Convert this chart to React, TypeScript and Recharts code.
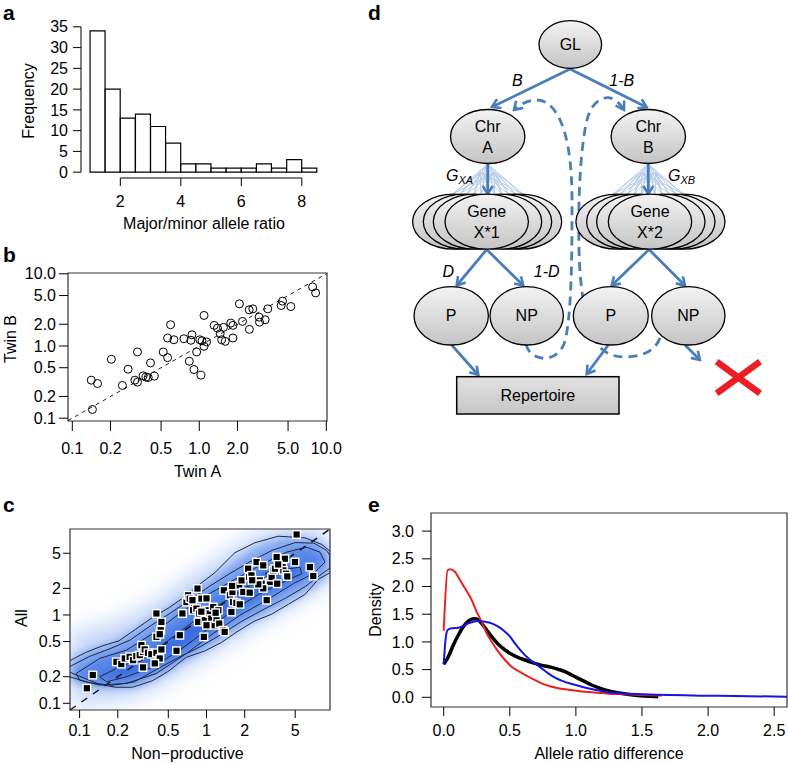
import React from "react";
import {
  BarChart,
  Bar,
  ComposedChart,
  Area,
  Scatter,
  LineChart,
  Line,
  XAxis,
  YAxis,
  ReferenceLine,
  ReferenceArea,
} from "recharts";

const FONT = '"Liberation Sans", Arial, Helvetica, sans-serif';
const tickFont = { fill: "#000", fontSize: 16, fontFamily: FONT };

// ---- a: histogram of major/minor allele ratio
const binStarts = [1, 1.5, 2, 2.5, 3, 3.5, 4, 4.5, 5, 5.5, 6, 6.5, 7, 7.5, 8];
const binMids = [1.25, 1.75, 2.25, 2.75, 3.25, 3.75, 4.25, 4.75, 5.25, 5.75, 6.25, 6.75, 7.25, 7.75, 8.25];
const binCounts = [34, 20, 13, 14, 11, 7, 2, 2, 1, 1, 1, 2, 1, 3, 1];
const ratioTicks = [2, 4, 6, 8];
const freqTicks = [0, 5, 10, 15, 20, 25, 30, 35];

// ---- b: twin A vs twin B
const twinA = [0.141, 0.158, 0.144, 0.203, 0.248, 0.275, 0.311, 0.326, 0.326, 0.361, 0.38, 0.396, 0.413, 0.442, 0.52, 0.563, 0.594, 0.563, 0.631, 0.757, 0.834, 0.859, 0.875, 0.908, 0.953, 1.01, 1.05, 1.03, 1.09, 1.09, 1.14, 1.31, 1.39, 1.46, 1.55, 1.5, 1.6, 1.77, 1.84, 1.84, 2.07, 2.19, 2.47, 2.48, 2.64, 2.96, 2.98, 3.3, 3.46, 4.41, 4.52, 5.26, 7.8, 8.24];
const twinB = [0.336, 0.302, 0.132, 0.655, 0.284, 0.477, 0.336, 0.316, 0.827, 0.386, 0.37, 0.366, 0.583, 0.382, 0.827, 0.69, 1.97, 1.29, 1.22, 1.26, 0.615, 1.2, 1.43, 0.472, 0.827, 1.22, 1.18, 0.394, 2.65, 0.99, 1.14, 1.93, 1.77, 1.48, 1.81, 1.22, 1.16, 2.08, 1.93, 1.29, 3.84, 2.19, 3.17, 1.7, 3.27, 2.51, 2.14, 2.31, 3.27, 3.64, 4.18, 3.52, 6.58, 5.44];
const twinTicks = [0.1, 0.2, 0.5, 1, 2, 5, 10];

// ---- c: non-productive vs all
const nonProductive = [0.114, 0.127, 0.195, 0.213, 0.227, 0.248, 0.264, 0.28, 0.298, 0.316, 0.307, 0.326, 0.346, 0.368, 0.403, 0.428, 0.316, 0.391, 0.441, 0.403, 0.441, 0.436, 0.403, 0.428, 0.58, 0.616, 0.646, 0.695, 0.716, 0.738, 0.775, 0.784, 0.833, 0.875, 0.859, 0.849, 0.913, 0.953, 1.0, 0.97, 1.06, 1.09, 1.13, 1.16, 1.2, 1.24, 1.26, 1.0, 1.35, 1.39, 1.37, 1.53, 1.6, 1.62, 1.72, 1.57, 1.81, 1.89, 1.95, 2.13, 2.17, 2.26, 2.48, 2.63, 2.72, 2.8, 2.98, 3.16, 3.26, 3.36, 3.46, 3.57, 3.98, 4.03, 4.15, 4.23, 4.33, 4.98, 5.13, 6.53, 6.94, 3.67, 3.61, 2.8, 2.56, 2.29, 2.19, 1.83, 1.59, 1.18, 1.0, 0.91];
const allSeqs = [0.148, 0.209, 0.295, 0.278, 0.322, 0.336, 0.308, 0.342, 0.351, 0.383, 0.455, 0.407, 0.373, 0.36, 0.373, 0.322, 0.255, 0.283, 0.407, 1.04, 0.834, 0.672, 0.565, 0.606, 0.393, 0.59, 1.04, 1.4, 1.67, 1.53, 1.47, 1.13, 1.18, 1.04, 0.834, 1.99, 1.53, 0.565, 1.13, 0.871, 1.04, 0.91, 1.23, 0.765, 0.91, 1.13, 0.799, 0.765, 0.672, 0.643, 1.9, 1.67, 1.82, 1.4, 1.37, 1.08, 2.16, 2.46, 1.82, 3.34, 2.69, 2.81, 3.97, 2.46, 2.26, 3.64, 1.47, 2.36, 2.69, 3.2, 3.34, 4.52, 3.48, 3.2, 4.33, 2.93, 2.73, 3.97, 8.15, 3.48, 2.76, 3.73, 2.26, 2.0, 2.22, 2.47, 1.79, 1.32, 2.13, 1.06, 1.54, 1.09];
const npTicks = [0.1, 0.2, 0.5, 1, 2, 5];

// density contours (closed loops)
const contourOuterX = [0.0834, 0.1115, 0.151, 0.204, 0.277, 0.375, 0.507, 0.687, 0.902, 1.16, 1.67, 2.4, 3.67, 5.97, 8.09, 9.4, 9.4, 7.6, 5.97, 4.41, 3.26, 2.4, 1.78, 1.31, 0.97, 0.687, 0.507, 0.375, 0.261, 0.192, 0.142, 0.0834];
const contourOuterY = [0.303, 0.376, 0.447, 0.509, 0.69, 0.935, 1.21, 1.64, 2.28, 3.0, 5.06, 6.56, 7.79, 7.47, 6.28, 5.27, 3.01, 2.53, 1.71, 1.32, 1.02, 0.855, 0.66, 0.488, 0.392, 0.33, 0.233, 0.18, 0.152, 0.152, 0.165, 0.225];
const contour2X = [0.0834, 0.12, 0.17, 0.25, 0.36, 0.52, 0.75, 1.05, 1.5, 2.2, 3.3, 5.0, 7.0, 8.8, 9.4, 9.4, 7.8, 6.0, 4.2, 2.8, 1.9, 1.3, 0.9, 0.6, 0.4, 0.27, 0.18, 0.12, 0.0834];
const contour2Y = [0.26, 0.34, 0.41, 0.52, 0.75, 1.05, 1.5, 2.1, 2.9, 4.0, 5.4, 6.6, 6.5, 5.4, 4.7, 3.4, 2.8, 2.1, 1.55, 1.15, 0.85, 0.6, 0.44, 0.33, 0.24, 0.175, 0.16, 0.17, 0.2];
const contourMidX = [0.094, 0.144, 0.234, 0.379, 0.616, 1.0, 1.62, 2.63, 4.28, 6.15, 7.84, 8.58, 6.94, 4.83, 2.98, 1.83, 1.13, 0.695, 0.403, 0.234, 0.144, 0.1, 0.094];
const contourMidY = [0.218, 0.322, 0.4, 0.617, 1.04, 1.67, 2.46, 3.64, 5.14, 5.85, 5.14, 3.96, 2.93, 2.26, 1.47, 0.99, 0.617, 0.367, 0.218, 0.168, 0.161, 0.183, 0.218];
const contourInnerX = [0.144, 0.207, 0.336, 0.545, 0.885, 1.44, 2.33, 3.79, 5.45, 5.62, 4.28, 2.63, 1.62, 1.0, 0.616, 0.379, 0.234, 0.163, 0.144];
const contourInnerY = [0.2, 0.259, 0.336, 0.565, 0.949, 1.47, 2.26, 3.2, 3.48, 2.93, 2.46, 1.74, 1.13, 0.672, 0.4, 0.259, 0.2, 0.175, 0.2];

// blue density shading bands (x, low, high)
const glowX = [0.084, 0.12, 0.17, 0.25, 0.35, 0.5, 0.7, 1.0, 1.4, 2.0, 3.0, 4.5, 6.5, 9.4];
const glowLo = [0.1, 0.1, 0.105, 0.115, 0.14, 0.18, 0.24, 0.33, 0.45, 0.62, 0.88, 1.25, 1.7, 2.3];
const glowHi = [0.65, 0.7, 0.8, 1.0, 1.3, 1.8, 2.6, 3.6, 5.0, 6.8, 8.8, 9.4, 9.4, 9.4];
const band1Lo = [0.19, 0.16, 0.15, 0.15, 0.175, 0.23, 0.32, 0.42, 0.56, 0.76, 1.02, 1.4, 1.9, 2.9];
const band1Hi = [0.32, 0.4, 0.47, 0.62, 0.86, 1.18, 1.65, 2.35, 3.4, 4.9, 6.6, 7.6, 7.2, 5.4];
const band2X = [0.09, 0.144, 0.234, 0.38, 0.62, 1.0, 1.6, 2.6, 4.3, 6.2, 8.6];
const band2Lo = [0.19, 0.165, 0.17, 0.22, 0.33, 0.5, 0.85, 1.3, 2.0, 2.6, 3.9];
const band2Hi = [0.23, 0.32, 0.4, 0.62, 1.04, 1.67, 2.46, 3.64, 5.1, 5.8, 4.6];
const band3X = [0.15, 0.21, 0.34, 0.55, 0.89, 1.44, 2.3, 3.8, 5.5];
const band3Lo = [0.185, 0.2, 0.26, 0.37, 0.58, 1.0, 1.55, 2.3, 2.95];
const band3Hi = [0.205, 0.26, 0.34, 0.57, 0.95, 1.47, 2.26, 3.2, 3.35];

// ---- e: allele ratio difference densities
const redX = [0, 0.03, 0.048, 0.085, 0.123, 0.161, 0.212, 0.249, 0.287, 0.325, 0.363, 0.413, 0.464, 0.514, 0.565, 0.615, 0.665, 0.741, 0.817, 0.918, 1.018, 1.119, 1.245, 1.371, 1.5, 1.65];
const redY = [1.2, 2.298, 2.31, 2.268, 2.117, 1.967, 1.756, 1.546, 1.365, 1.155, 1.004, 0.824, 0.673, 0.553, 0.475, 0.403, 0.342, 0.252, 0.192, 0.144, 0.114, 0.09, 0.066, 0.054, 0.04, 0.03];
const blackX = [0, 0.035, 0.073, 0.111, 0.148, 0.186, 0.224, 0.249, 0.287, 0.325, 0.363, 0.413, 0.464, 0.514, 0.565, 0.615, 0.665, 0.716, 0.766, 0.817, 0.867, 0.918, 0.968, 1.018, 1.069, 1.119, 1.17, 1.22, 1.271, 1.346, 1.434, 1.623];
const blackY = [0.595, 0.733, 0.944, 1.125, 1.275, 1.377, 1.419, 1.413, 1.335, 1.215, 1.094, 0.956, 0.854, 0.776, 0.715, 0.673, 0.631, 0.595, 0.565, 0.541, 0.505, 0.463, 0.403, 0.342, 0.282, 0.222, 0.174, 0.132, 0.102, 0.072, 0.04, 0.01];
const blueX = [0, 0.015, 0.03, 0.06, 0.111, 0.148, 0.186, 0.224, 0.262, 0.312, 0.363, 0.413, 0.464, 0.502, 0.539, 0.59, 0.64, 0.691, 0.741, 0.791, 0.842, 0.892, 0.968, 1.044, 1.119, 1.22, 1.321, 1.51, 1.94, 2.2, 2.597];
const blueY = [0.595, 1.064, 1.215, 1.245, 1.257, 1.287, 1.335, 1.365, 1.377, 1.365, 1.335, 1.275, 1.185, 1.094, 0.974, 0.824, 0.703, 0.613, 0.523, 0.433, 0.354, 0.3, 0.24, 0.192, 0.15, 0.102, 0.072, 0.054, 0.03, 0.025, 0.01];
const diffTicks = [0, 0.5, 1, 1.5, 2, 2.5];
const densTicks = [0, 0.5, 1, 1.5, 2, 2.5, 3];

const zip = (xs: number[], ys: number[]) => xs.map((x, i) => ({ x, y: ys[i] }));
const band = (xs: number[], lo: number[], hi: number[]) =>
  xs.map((x, i) => ({ x, range: [lo[i], hi[i]] }));

const histData = binStarts.map((b, i) => ({ bin: b, mid: binMids[i], count: binCounts[i] }));
const twinData = zip(twinA, twinB);
const npData = zip(nonProductive, allSeqs);

const BLUE = "#4a7ebb";
const noDot = () => <g />;

const Circle = (p: any) => <circle cx={p.cx} cy={p.cy} r={4} fill="none" stroke="#000" strokeWidth={1} />;
const Square = (p: any) => (
  <rect x={p.cx - 3.8} y={p.cy - 3.8} width={7.6} height={7.6} fill="#000" stroke="#fff" strokeWidth={1.4} />
);

const Node = ({ cx, cy, rx, ry, lines }: any) => (
  <g>
    <ellipse cx={cx} cy={cy} rx={rx} ry={ry} fill="url(#nodeFill)" stroke="#000" strokeWidth={1.3} />
    {lines.map((t: string, i: number) => (
      <text key={i} x={cx} y={cy + (i - (lines.length - 1) / 2) * 21} textAnchor="middle" dominantBaseline="central" fontSize={16}>
        {t}
      </text>
    ))}
  </g>
);

const GeneStack = ({ cx, label }: any) => {
  const offs = [-32.4, 33.3, -21.7, 23.3, -11.7, 13.3];
  return (
    <g>
      {offs.map((o) => (
        <ellipse key={o} cx={cx + o} cy={221.7} rx={41.7} ry={27.5} fill="url(#nodeFill)" stroke="#000" strokeWidth={1.3} />
      ))}
      <Node cx={cx} cy={221.7} rx={41.7} ry={27.5} lines={["Gene", label]} />
    </g>
  );
};

const Fan = ({ cx }: any) => {
  const targets = [-35, -28, -21, -14, -7, 7, 14, 21, 28, 35];
  const origins = [[0, 164], [-7, 172], [7, 172]];
  return (
    <g stroke="#b7cce8" strokeWidth={1}>
      {origins.map(([ox, oy], j) =>
        targets.map((t) => <line key={j + "-" + t} x1={cx + ox} y1={oy} x2={cx + t} y2={194} />)
      )}
    </g>
  );
};

const Diagram = () => (
  <g fontFamily={FONT}>
    <Fan cx={487.7} />
    <Fan cx={648.3} />
    <g stroke={BLUE} strokeWidth={2.8} fill="none" markerEnd="url(#chev)">
      <path d="M570,69 L492,107" />
      <path d="M570,69 L646.7,107.3" />
      <path d="M487.7,163.5 L487.7,194" />
      <path d="M648.3,163.5 L648.3,194" />
      <path d="M486.7,249.5 L456.7,285.5" />
      <path d="M486.7,249.5 L523.3,285.5" />
      <path d="M649,249.5 L611.7,285.5" />
      <path d="M649,249.5 L685,285.5" />
      <path d="M451.7,345 L478.3,375" />
      <path d="M608.3,345 L586.7,374" />
      <path d="M685,345 L700,360" />
    </g>
    <g stroke={BLUE} strokeWidth={2.8} fill="none" strokeDasharray="9 6" markerEnd="url(#chev)">
      <path d="M526,344 C530,362 556,364 564,344 C572,320 572,250 572,200 C572,150 564,112 545,102 C535,97 522,102 514,110" />
      <path d="M660,338 C655,352 640,357 625,357 C612,357 600,352 594,338 C585,318 580,290 579,250 C578,200 580,150 587,120 C592,100 605,95 613,99 C618,102 621,105 624,110" />
    </g>
    <Node cx={570.3} cy={44.5} rx={31.3} ry={23.8} lines={["GL"]} />
    <Node cx={487.7} cy={136.5} rx={37.2} ry={27} lines={["Chr", "A"]} />
    <Node cx={648.3} cy={136.5} rx={37.2} ry={27} lines={["Chr", "B"]} />
    <GeneStack cx={486.7} label="X*1" />
    <GeneStack cx={650} label="X*2" />
    <Node cx={451.2} cy={315.8} rx={37.2} ry={29.2} lines={["P"]} />
    <Node cx={526.7} cy={315.8} rx={36.7} ry={29.2} lines={["NP"]} />
    <Node cx={610.8} cy={315.8} rx={37.5} ry={29.2} lines={["P"]} />
    <Node cx={688.3} cy={315.8} rx={36.7} ry={29.2} lines={["NP"]} />
    <rect x={456.7} y={376.7} width={162.3} height={37.3} fill="url(#boxFill)" stroke="#000" strokeWidth={1.5} />
    <text x={537.8} y={395.3} textAnchor="middle" dominantBaseline="central" fontSize={16}>Repertoire</text>
    <g fontSize={16} fontStyle="italic" textAnchor="middle" dominantBaseline="central">
      <text x={517.3} y={80}>B</text>
      <text x={621.7} y={80}>1-B</text>
      <text x={448.3} y={271.7}>D</text>
      <text x={546.7} y={271.7}>1-D</text>
    </g>
    <g fontStyle="italic" dominantBaseline="central">
      <text x={446} y={175} fontSize={16}>G<tspan fontSize={11} dy={5}>XA</tspan></text>
      <text x={668} y={175} fontSize={16}>G<tspan fontSize={11} dy={5}>XB</tspan></text>
    </g>
    <g stroke="#ee1c24" strokeWidth={6.5}>
      <line x1={716.7} y1={361.7} x2={760} y2={393.3} />
      <line x1={716.7} y1={393.3} x2={760} y2={361.7} />
    </g>
  </g>
);

const Overlay = () => (
  <svg width={788} height={764} style={{ position: "absolute", left: 0, top: 0, pointerEvents: "none" }} fontFamily={FONT}>
    <defs>
      <linearGradient id="nodeFill" x1="0" y1="0" x2="0" y2="1">
        <stop offset="0" stopColor="#f3f3f3" />
        <stop offset="1" stopColor="#c4c4c4" />
      </linearGradient>
      <linearGradient id="boxFill" x1="0" y1="0" x2="0" y2="1">
        <stop offset="0" stopColor="#e2e2e2" />
        <stop offset="1" stopColor="#c6c6c6" />
      </linearGradient>
      <marker id="chev" viewBox="0 0 12 12" refX="10" refY="6" markerWidth="12" markerHeight="12" markerUnits="userSpaceOnUse" orient="auto">
        <path d="M2,1 L10,6 L2,11" fill="none" stroke={BLUE} strokeWidth={2.6} />
      </marker>
      <filter id="blurWide" x="-30%" y="-30%" width="160%" height="160%">
        <feGaussianBlur stdDeviation="11" />
      </filter>
      <filter id="blurNarrow" x="-30%" y="-30%" width="160%" height="160%">
        <feGaussianBlur stdDeviation="5" />
      </filter>
    </defs>
    <g fontWeight="bold" fontSize={21}>
      <text x={3} y={20}>a</text>
      <text x={3} y={262}>b</text>
      <text x={3} y={512}>c</text>
      <text x={368} y={20}>d</text>
      <text x={368} y={512}>e</text>
    </g>
    <g fontSize={16} textAnchor="middle" dominantBaseline="central" fill="#000">
      <text x={28} y={101} transform="rotate(-90 28 101)">Frequency</text>
      <text x={204} y={223}>Major/minor allele ratio</text>
      <text x={10} y={339} transform="rotate(-90 10 339)">Twin B</text>
      <text x={197.5} y={471.7}>Twin A</text>
      <text x={21} y={618} transform="rotate(-90 21 618)">All</text>
      <text x={187.5} y={753}>Non{"\u2212"}productive</text>
      <text x={375} y={610} transform="rotate(-90 375 610)">Density</text>
      <text x={609} y={753}>Allele ratio difference</text>
    </g>
    <Diagram />
  </svg>
);

export default function App() {
  return (
    <div style={{ position: "absolute", left: 0, top: 0, width: 788, height: 764, background: "#fff", fontFamily: FONT }}>
      {/* a */}
      <div style={{ position: "absolute", left: 0, top: 0 }}>
        <BarChart width={340} height={235} data={histData} margin={{ top: 21, right: 14, bottom: 0, left: 0 }} barCategoryGap={0}>
          <XAxis
            xAxisId="ratio"
            dataKey="mid"
            type="number"
            domain={[0.7, 8.8]}
            allowDataOverflow
            ticks={ratioTicks}
            interval={0}
            height={57}
            tickSize={8}
            tickMargin={10}
            tick={tickFont}
            axisLine={{ stroke: "#000", strokeDasharray: "0 39.3 181.5 1000" }}
            tickLine={{ stroke: "#000" }}
          />
          <XAxis xAxisId="bins" dataKey="bin" type="category" hide height={0} padding={{ left: 9.07, right: 9.07 }} />
          <YAxis
            type="number"
            domain={[-1.4, 36.4]}
            allowDataOverflow
            ticks={freqTicks}
            interval={0}
            width={81}
            tickSize={8}
            tickMargin={5}
            tick={tickFont}
            axisLine={{ stroke: "#000", strokeDasharray: "0 5.8 145.4 1000" }}
            tickLine={{ stroke: "#000" }}
          />
          <Bar xAxisId="bins" dataKey="count" fill="#fff" stroke="#000" strokeWidth={1.2} isAnimationActive={false} />
        </BarChart>
      </div>

      {/* b */}
      <div style={{ position: "absolute", left: 0, top: 250 }}>
        <ComposedChart width={360} height={235} margin={{ top: 23, right: 33, bottom: 0, left: 0 }}>
          <XAxis
            dataKey="x"
            type="number"
            scale="log"
            domain={[0.0925, 10.13]}
            allowDataOverflow
            ticks={twinTicks}
            interval={0}
            tickFormatter={(v: number) => v.toFixed(1)}
            height={64}
            tickSize={10}
            tickMargin={12}
            tick={tickFont}
            axisLine={false}
            tickLine={{ stroke: "#000" }}
          />
          <YAxis
            dataKey="y"
            type="number"
            scale="log"
            domain={[0.0914, 10.26]}
            allowDataOverflow
            ticks={twinTicks}
            interval={0}
            tickFormatter={(v: number) => v.toFixed(1)}
            width={68}
            tickSize={9}
            tickMargin={3}
            tick={tickFont}
            axisLine={false}
            tickLine={{ stroke: "#000" }}
          />
          <ReferenceLine
            segment={[{ x: 0.0925, y: 0.0925 }, { x: 10.13, y: 10.13 }]}
            stroke="#222"
            strokeDasharray="4 4"
            ifOverflow="visible"
          />
          <Scatter data={twinData} shape={Circle} isAnimationActive={false} />
          <ReferenceArea x1={0.0925} x2={10.13} y1={0.0914} y2={10.26} fill="none" stroke="#333" strokeWidth={1.2} />
        </ComposedChart>
      </div>

      {/* c */}
      <div style={{ position: "absolute", left: 0, top: 505 }}>
        <ComposedChart width={340} height={259} margin={{ top: 24, right: 10, bottom: 0, left: 0 }}>
          <XAxis
            dataKey="x"
            type="number"
            scale="log"
            domain={[0.084, 9.4]}
            allowDataOverflow
            ticks={npTicks}
            interval={0}
            height={54}
            tickSize={8}
            tickMargin={7}
            tick={tickFont}
            axisLine={false}
            tickLine={{ stroke: "#000" }}
          />
          <YAxis
            dataKey="y"
            type="number"
            scale="log"
            domain={[0.084, 9.4]}
            allowDataOverflow
            ticks={npTicks}
            interval={0}
            width={70}
            tickSize={7}
            tickMargin={2}
            tick={tickFont}
            axisLine={false}
            tickLine={{ stroke: "#000" }}
          />
          <Area data={band(glowX, glowLo, glowHi)} dataKey="range" type="monotone" stroke="none" fill="#8aacf0" fillOpacity={0.5} filter="url(#blurWide)" isAnimationActive={false} />
          <Area data={band(glowX, band1Lo, band1Hi)} dataKey="range" type="monotone" stroke="none" fill="#4a80ec" fillOpacity={0.55} filter="url(#blurNarrow)" isAnimationActive={false} />
          <Area data={band(band2X, band2Lo, band2Hi)} dataKey="range" type="monotone" stroke="none" fill="#2f68e4" fillOpacity={0.55} filter="url(#blurNarrow)" isAnimationActive={false} />
          <Area data={band(band3X, band3Lo, band3Hi)} dataKey="range" type="monotone" stroke="none" fill="#2256d8" fillOpacity={0.55} filter="url(#blurNarrow)" isAnimationActive={false} />
          <Scatter data={zip(contourOuterX, contourOuterY)} shape={noDot} line={{ stroke: "#1c2940", strokeWidth: 1 }} lineJointType="linear" isAnimationActive={false} />
          <Scatter data={zip(contour2X, contour2Y)} shape={noDot} line={{ stroke: "#1c2940", strokeWidth: 1 }} lineJointType="linear" isAnimationActive={false} />
          <Scatter data={zip(contourMidX, contourMidY)} shape={noDot} line={{ stroke: "#1c2940", strokeWidth: 1 }} lineJointType="linear" isAnimationActive={false} />
          <Scatter data={zip(contourInnerX, contourInnerY)} shape={noDot} line={{ stroke: "#1c2940", strokeWidth: 1 }} lineJointType="linear" isAnimationActive={false} />
          <ReferenceLine
            segment={[{ x: 0.084, y: 0.084 }, { x: 9.4, y: 9.4 }]}
            stroke="#111"
            strokeWidth={1.5}
            strokeDasharray="7 7"
            ifOverflow="visible"
          />
          <Scatter data={npData} shape={Square} isAnimationActive={false} />
          <ReferenceArea x1={0.084} x2={9.4} y1={0.084} y2={9.4} fill="none" stroke="#333" strokeWidth={1.2} />
        </ComposedChart>
      </div>

      {/* e */}
      <div style={{ position: "absolute", left: 360, top: 490 }}>
        <LineChart width={428} height={274} margin={{ top: 23, right: 1, bottom: 0, left: 0 }}>
          <XAxis
            dataKey="x"
            type="number"
            domain={[-0.096, 2.597]}
            allowDataOverflow
            ticks={diffTicks}
            interval={0}
            tickFormatter={(v: number) => v.toFixed(1)}
            height={57}
            tickSize={9}
            tickMargin={9}
            tick={tickFont}
            axisLine={false}
            tickLine={{ stroke: "#000" }}
          />
          <YAxis
            type="number"
            domain={[-0.175, 3.327]}
            allowDataOverflow
            ticks={densTicks}
            interval={0}
            tickFormatter={(v: number) => v.toFixed(1)}
            width={71}
            tickSize={9}
            tickMargin={8}
            tick={tickFont}
            axisLine={false}
            tickLine={{ stroke: "#000" }}
          />
          <Line data={zip(blackX, blackY)} dataKey="y" type="monotone" stroke="#000" strokeWidth={3.5} dot={false} isAnimationActive={false} />
          <Line data={zip(redX, redY)} dataKey="y" type="monotone" stroke="#ee1f1f" strokeWidth={2} dot={false} isAnimationActive={false} />
          <Line data={zip(blueX, blueY)} dataKey="y" type="monotone" stroke="#1414e6" strokeWidth={2} dot={false} isAnimationActive={false} />
          <ReferenceArea x1={-0.096} x2={2.597} y1={-0.175} y2={3.327} fill="none" stroke="#333" strokeWidth={1.2} />
        </LineChart>
      </div>

      <Overlay />
    </div>
  );
}
